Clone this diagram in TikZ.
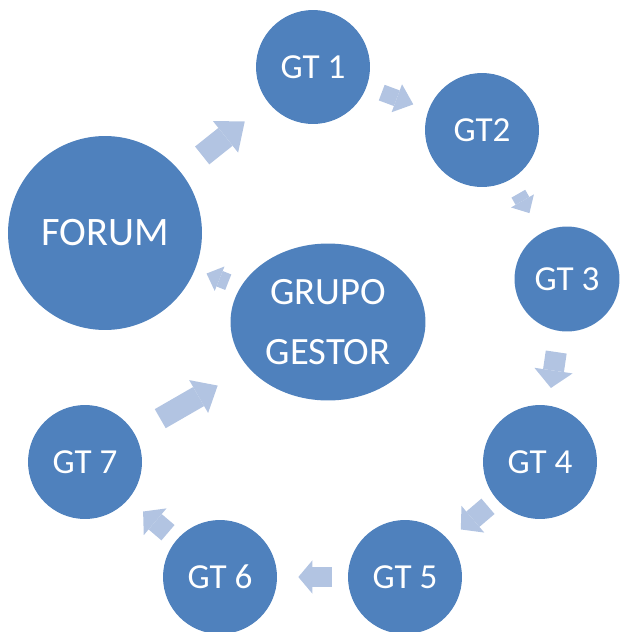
\documentclass[tikz,border=0pt]{standalone}
\usepackage{fontspec}
\setmainfont{Carlito}
\usetikzlibrary{arrows.meta,shapes.geometric}

\definecolor{gtblue}{RGB}{79,129,189}
\definecolor{flowblue}{RGB}{178,196,226}

\tikzset{
  gt/.style={circle, fill=gtblue, text=white, minimum size=2.28cm, inner sep=0pt,
    font=\fontsize{20}{24}\selectfont},
  flow/.style n args={3}{flowblue, line width=#1,
    -{Triangle[length=#2, width=#3, line width=0pt]}},
}

\begin{document}
\begin{tikzpicture}[x=0.02cm, y=-0.02cm]
\useasboundingbox (0,0) rectangle (619,632);

% groups
\node [gt, minimum size=3.88cm, font=\fontsize{23}{28}\selectfont] (forum) at (105,233) {FORUM};
\node [gt] (gt1) at (313,67) {GT 1};
\node [gt] (gt2) at (482,130) {GT2};
\node [gt, minimum size=2.1cm] (gt3) at (567,279) {GT 3};
\node [gt] (gt4) at (540,462) {GT 4};
\node [gt] (gt5) at (405,577) {GT 5};
\node [gt] (gt6) at (220,577) {GT 6};
\node [gt] (gt7) at (85,462) {GT 7};
\node [gt, ellipse, minimum width=3.9cm, minimum height=3.14cm, align=center,
  font=\fontsize{22}{34}\selectfont] (gestor) at (328,322) {GRUPO\\GESTOR};

% block arrows
\draw [flow={13pt}{14pt}{23pt}, shorten <=0.54cm, shorten >=0.6cm] (forum) -- (gt1);
\draw [flow={9.5pt}{10pt}{17pt}, shorten <=0.32cm, shorten >=0.32cm] (gt1) -- (gt2);
\draw [flow={9pt}{8pt}{15pt}, shorten <=0.32cm, shorten >=0.46cm] (gt2) -- (gt3);
\draw [flow={12pt}{10pt}{22pt}, shorten <=0.42cm, shorten >=0.35cm] (gt3) -- (gt4);
\draw [flow={11.5pt}{9pt}{20pt}, shorten <=0.22cm, shorten >=0.32cm] (gt4) -- (gt5);
\draw [flow={11.4pt}{8pt}{19pt}, shorten <=0.32cm, shorten >=0.42cm] (gt5) -- (gt6);
\draw [flow={11.5pt}{9pt}{20pt}, shorten <=0.22cm, shorten >=0.38cm] (gt6) -- (gt7);
\draw [flow={12.5pt}{12.5pt}{21.6pt}, shorten <=0.59cm, shorten >=0.71cm] (gt7) -- (gestor);
\draw [flow={9.5pt}{8pt}{15pt}, shorten <=0.26cm, shorten >=0.24cm] (gestor) -- (forum);
\end{tikzpicture}
\end{document}
